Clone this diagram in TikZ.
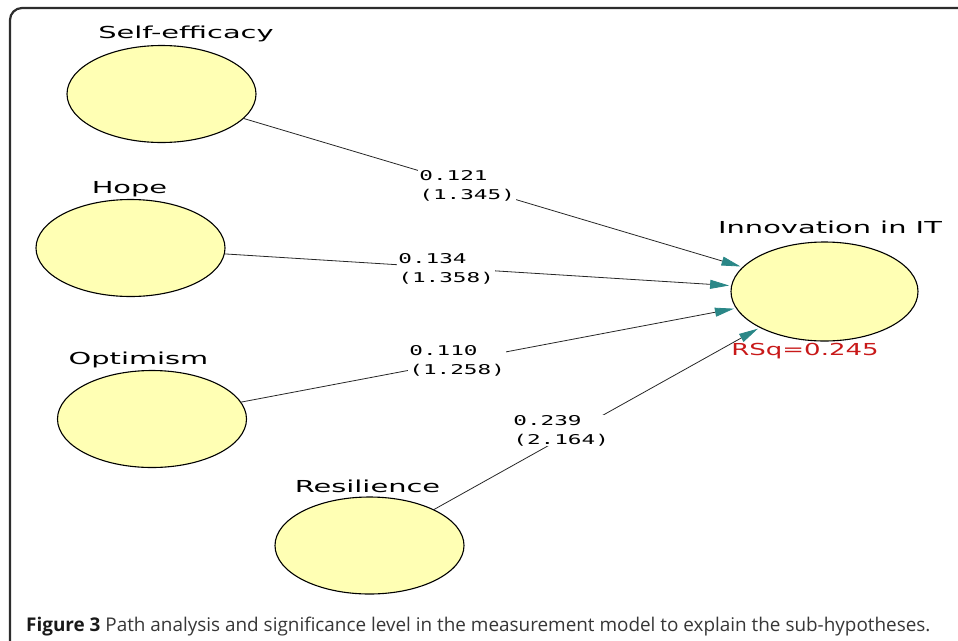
\documentclass[tikz,border=0pt]{standalone}
\usepackage{fontspec}
\setmainfont{Open Sans}
\newfontfamily\dvs{DejaVu Sans}
\newfontfamily\dvm{DejaVu Sans Mono}
\usetikzlibrary{shapes.geometric,arrows.meta}
\definecolor{ellfill}{RGB}{255,255,180}
\definecolor{arrowc}{RGB}{42,135,135}
\definecolor{rsqred}{RGB}{200,25,25}
\definecolor{framec}{RGB}{45,45,45}
\definecolor{capc}{RGB}{55,55,55}
\begin{document}
\begin{tikzpicture}[x=1pt,y=-1pt,
  latent/.style={ellipse, draw=black, line width=1.1pt, fill=ellfill,
    minimum width=189pt, minimum height=97pt, inner sep=0pt},
  lbl/.style={font=\dvs\fontsize{16.5}{18}\selectfont, xscale=1.75,
    inner sep=0pt, anchor=base},
  coef/.style={font=\dvm\fontsize{13.5}{18.5}\selectfont, xscale=1.68,
    align=left, fill=white, inner sep=0.6pt, anchor=base west},
  conn/.style={draw=black!85, line width=0.8pt,
    -{Triangle[length=19pt,width=9pt,color=arrowc]}, shorten >=2pt}]
\useasboundingbox (0,0) rectangle (958,640);
\clip (0,0) rectangle (958,640);
\draw[framec, line width=2.2pt, rounded corners=12pt] (10,8) rectangle (990,670);

\node[latent] (se)  at (161.5,94) {};
\node[latent] (hope) at (130.5,248) {};
\node[latent] (opt) at (152,419) {};
\node[latent] (res) at (369.5,545.5) {};
\node[latent, minimum width=187pt, minimum height=99pt] (inn) at (824.5,291.5) {};

\node[lbl] (tse)  at (186,38) {Self-efficacy};
\node[lbl] (thope) at (129.5,193) {Hope};
\node[lbl] (topt) at (138.5,364) {Optimism};
\node[lbl] (tres) at (367.5,492) {Resilience};
\node[lbl] (tinn) at (830,233) {Innovation in IT};
\node[lbl, xscale=0.9, text=rsqred] (rsq) at (805,355) {RSq=0.245};

\draw[conn] (se) -- (inn);
\draw[conn] (hope) -- (inn);
\draw[conn] (opt) -- (inn);
\draw[conn] (res) -- (inn);

\node[coef] (c1) at (418,199) {0.121\\(1.345)};
\node[coef] (c2) at (397,282) {0.134\\(1.358)};
\node[coef] (c3) at (408,374) {0.110\\(1.258)};
\node[coef] (c4) at (512,444) {0.239\\(2.164)};

\node[anchor=base west, inner sep=0pt, font=\fontsize{18.9}{20}\selectfont,
  text=capc] (cap) at (26,631)
  {\textbf{\color{black!90}Figure 3} Path analysis and significance level in the measurement model to explain the sub-hypotheses.};
\end{tikzpicture}
\end{document}
